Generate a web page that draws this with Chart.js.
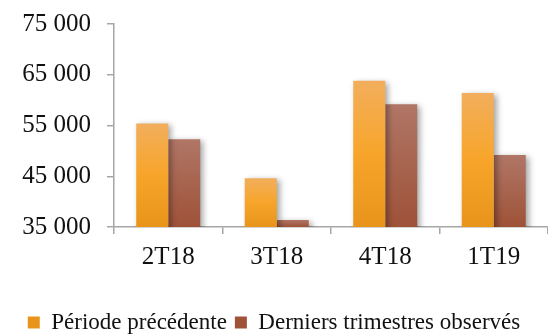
<!DOCTYPE html>
<html>
<head>
<meta charset="utf-8">
<script src="https://cdn.jsdelivr.net/npm/chart.js@4/dist/chart.umd.min.js"></script>
<style>
    html, body { margin: 0; padding: 0; background: #fff; }
    #wrap { width: 548px; height: 334px; }
</style>
</head>
<body>
<div id="wrap"><canvas id="quarterChart"></canvas></div>
<script>
"use strict";

// data
let quarters = ["2T18", "3T18", "4T18", "1T19"];
let previousPeriod = [55400, 44600, 63800, 61400];
let lastQuarters = [52300, 36400, 59200, 49200];
let seriesNames = ["Période précédente", "Derniers trimestres observés"];
let yMin = 35000;
let yMax = 75000;
let yStep = 10000;

let serif = "'Liberation Serif', 'DejaVu Serif', serif";

// vertical gradient per bar, top lighter like the original
function barFill(top, mid, bottom, solid) {
    return function (context) {
        let chart = context.chart;
        if (context.type !== "data" || !chart.chartArea || !chart.scales.y) {
            return solid;
        }
        let y = chart.scales.y;
        let yTop = y.getPixelForValue(context.raw);
        let yBottom = y.getPixelForValue(yMin);
        if (!isFinite(yTop) || yBottom - yTop < 1) {
            return solid;
        }
        let g = chart.ctx.createLinearGradient(0, yTop, 0, yBottom);
        g.addColorStop(0, top);
        if (mid) g.addColorStop(0.5, mid);
        g.addColorStop(1, bottom);
        return g;
    };
}

// soft drop shadow behind the bars
let barShadow = {
    id: "barShadow",
    beforeDatasetsDraw(chart) {
        let ctx = chart.ctx;
        ctx.save();
        ctx.shadowColor = "rgba(0, 0, 0, 0.35)";
        ctx.shadowBlur = 6;
        ctx.shadowOffsetX = 3;
        ctx.shadowOffsetY = 2;
    },
    afterDatasetsDraw(chart) {
        chart.ctx.restore();
    }
};

function spaced(v) {
    return String(v).replace(/\B(?=(\d{3})+(?!\d))/g, " ");
}

let axisGrey = "#a6a6a6";

let ctx = document.getElementById("quarterChart").getContext("2d");

window.quarterChart = new Chart(ctx, {
    type: "bar",
    data: {
        labels: quarters,
        datasets: [{
            label: seriesNames[0],
            data: previousPeriod,
            backgroundColor: barFill("#F2AE5C", "#F7A52A", "#E8941B", "#F4A436"),
            borderWidth: 0
        }, {
            label: seriesNames[1],
            data: lastQuarters,
            backgroundColor: barFill("#B07666", null, "#9E5238", "#A7634E"),
            borderWidth: 0
        }]
    },
    options: {
        responsive: true,
        maintainAspectRatio: false,
        animation: false,
        categoryPercentage: 0.59,
        barPercentage: 1,
        layout: {
            padding: { top: 24, right: 0, bottom: -10, left: 0 }
        },
        plugins: {
            tooltip: { enabled: false },
            legend: {
                position: "bottom",
                labels: {
                    color: "#111",
                    font: { family: serif, size: 23 },
                    boxWidth: 12,
                    boxHeight: 12,
                    padding: 8
                }
            }
        },
        scales: {
            x: {
                afterFit: function (scale) {
                    scale.height = scale.height + 23;
                },
                border: { display: true, color: axisGrey, width: 1.5 },
                grid: {
                    display: true,
                    drawOnChartArea: false,
                    drawTicks: true,
                    tickLength: 7,
                    lineWidth: 1.5,
                    // no tick mark at the right edge
                    color: function (c) {
                        return c.index === quarters.length ? "rgba(0,0,0,0)" : axisGrey;
                    }
                },
                ticks: {
                    color: "#111",
                    font: { family: serif, size: 25 },
                    padding: 8
                }
            },
            y: {
                min: yMin,
                max: yMax,
                afterFit: function (scale) {
                    scale.width = 114;
                    scale.paddingTop = 0;
                },
                border: { display: true, color: axisGrey, width: 1.5 },
                grid: {
                    display: true,
                    drawOnChartArea: false,
                    drawTicks: true,
                    tickLength: 7,
                    color: axisGrey,
                    lineWidth: 1.5
                },
                ticks: {
                    stepSize: yStep,
                    color: "#111",
                    font: { family: serif, size: 25 },
                    padding: 16,
                    callback: function (value) {
                        return spaced(value);
                    }
                }
            }
        }
    },
    plugins: [barShadow]
});
</script>
</body>
</html>
